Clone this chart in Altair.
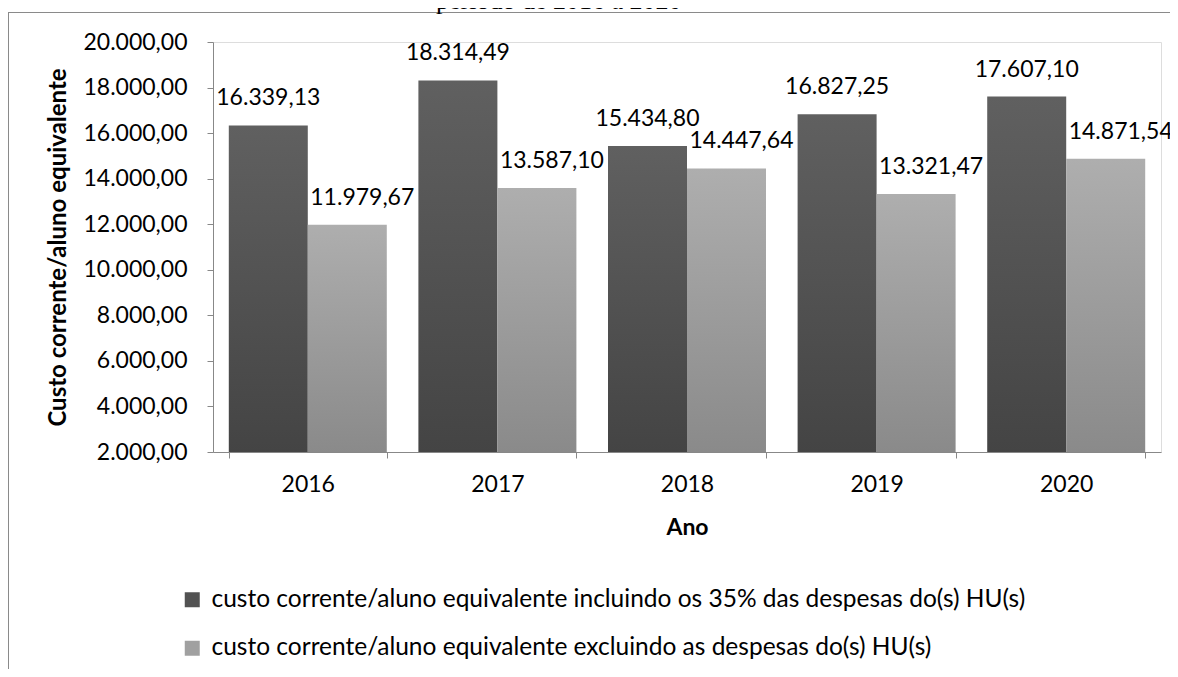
import altair as alt
import pandas as pd

# ---- data ----
anos = ["2016", "2017", "2018", "2019", "2020"]
incluindo = [16339.13, 18314.49, 15434.80, 16827.25, 17607.10]
excluindo = [11979.67, 13587.10, 14447.64, 13321.47, 14871.54]
serie_incl = "custo corrente/aluno equivalente incluindo os 35% das despesas do(s) HU(s)"
serie_excl = "custo corrente/aluno equivalente excluindo as despesas do(s) HU(s)"
y_ticks = [2000, 4000, 6000, 8000, 10000, 12000, 14000, 16000, 18000, 20000]
y_min, y_max = 2000, 20000
titulo = "período de 2016 a 2020"

rows = []
for a, v in zip(anos, incluindo):
    rows.append({"ano": a, "serie": serie_incl, "valor": v})
for a, v in zip(anos, excluindo):
    rows.append({"ano": a, "serie": serie_excl, "valor": v})
df = pd.DataFrame(rows)
df["base"] = y_min

FONT = "Lato"
FS = 23
series = [serie_incl, serie_excl]

grad_dark = {"gradient": "linear", "x1": 0, "y1": 0, "x2": 0, "y2": 1,
             "stops": [{"offset": 0, "color": "#606060"}, {"offset": 1, "color": "#444444"}]}
grad_light = {"gradient": "linear", "x1": 0, "y1": 0, "x2": 0, "y2": 1,
              "stops": [{"offset": 0, "color": "#aeaeae"}, {"offset": 1, "color": "#8a8a8a"}]}

x_enc = alt.X("ano:N", sort=anos,
              scale=alt.Scale(paddingInner=0.1667, paddingOuter=0.0833),
              axis=alt.Axis(title="Ano", labelAngle=0, tickBand="extent",
                            labelFont=FONT, labelFontSize=FS, labelColor="#000000",
                            labelPadding=15, titleFont=FONT, titleFontSize=FS,
                            titleFontWeight="bold", titleColor="#000000", titlePadding=20,
                            domainColor="#888888", tickColor="#888888", tickSize=6))
xo_enc = alt.XOffset("serie:N", sort=series,
                     scale=alt.Scale(domain=series, paddingInner=0, paddingOuter=0))
y_scale = alt.Scale(domain=[y_min, y_max], nice=False, zero=False)
y_enc = alt.Y("valor:Q", scale=y_scale,
              axis=alt.Axis(title="Custo corrente/aluno equivalente", values=y_ticks,
                            format=",.2f", grid=False, labelFont=FONT, labelFontSize=FS,
                            labelColor="#000000", labelPadding=20, titleFont=FONT,
                            titleFontSize=24, titleFontWeight="bold", titleColor="#000000",
                            titlePadding=12, domainColor="#888888", tickColor="#888888",
                            tickSize=6))

base = alt.Chart(df)

bars = base.mark_bar().encode(
    x=x_enc,
    xOffset=xo_enc,
    y=y_enc,
    y2="base:Q",
    color=alt.condition(alt.datum.serie == serie_incl, alt.value(grad_dark), alt.value(grad_light)),
)

lab_dark = base.transform_filter(alt.datum.serie == serie_incl).mark_text(
    font=FONT, fontSize=FS, color="#000000", baseline="middle", dy=-27, dx=0
).encode(x=alt.X("ano:N", sort=anos), xOffset=alt.XOffset("serie:N", sort=series),
         y="valor:Q", text=alt.Text("valor:Q", format=",.2f"))

lab_light = base.transform_filter(alt.datum.serie == serie_excl).mark_text(
    font=FONT, fontSize=FS, color="#000000", baseline="middle", dy=-27, dx=15
).encode(x=alt.X("ano:N", sort=anos), xOffset=alt.XOffset("serie:N", sort=series),
         y="valor:Q", text=alt.Text("valor:Q", format=",.2f"))

LFS = 24.5
legend_layer = base.transform_filter("false").mark_square(size=225, opacity=1).encode(
    color=alt.Color("serie:N",
                    scale=alt.Scale(domain=series, range=["#525252", "#a0a0a0"]),
                    legend=alt.Legend(title=None, orient="none", legendX=-33, legendY=545.5,
                                      direction="vertical", symbolType="square",
                                      symbolSize=225, symbolStrokeWidth=0,
                                      labelFont=FONT, labelFontSize=LFS, labelColor="#000000",
                                      labelOffset=7, labelLimit=1200, rowPadding=23.5,
                                      padding=0))
)

one = pd.DataFrame({"k": [0]})
frame_left = alt.Chart(one).mark_rule(color="#8a8a8a", strokeWidth=1).encode(
    x=alt.value(-204.5), y=alt.value(-30), y2=alt.value(630))
frame_top = alt.Chart(one).mark_rule(color="#8a8a8a", strokeWidth=1).encode(
    x=alt.value(-205), x2=alt.value(965), y=alt.value(-29.5))
title_text = alt.Chart(one).mark_text(font="Liberation Serif", fontSize=26, align="left",
                                      baseline="alphabetic", color="#000000").encode(
    x=alt.value(223), y=alt.value(-33), text=alt.value(titulo))

chart = alt.layer(frame_left, frame_top, title_text, bars, lab_dark, lab_light, legend_layer).properties(
    width=948, height=410,
    padding={"left": 205, "top": 34, "right": 9, "bottom": 217},
    autosize=alt.AutoSizeParams(type="none"),
).configure_view(stroke="transparent").configure(
    locale=alt.Locale(number=alt.NumberLocale(decimal=",", thousands=".", grouping=[3],
                                              currency=["R$ ", ""]))
)

chart.save("out.html", embed_options={"renderer": "svg", "actions": False})
